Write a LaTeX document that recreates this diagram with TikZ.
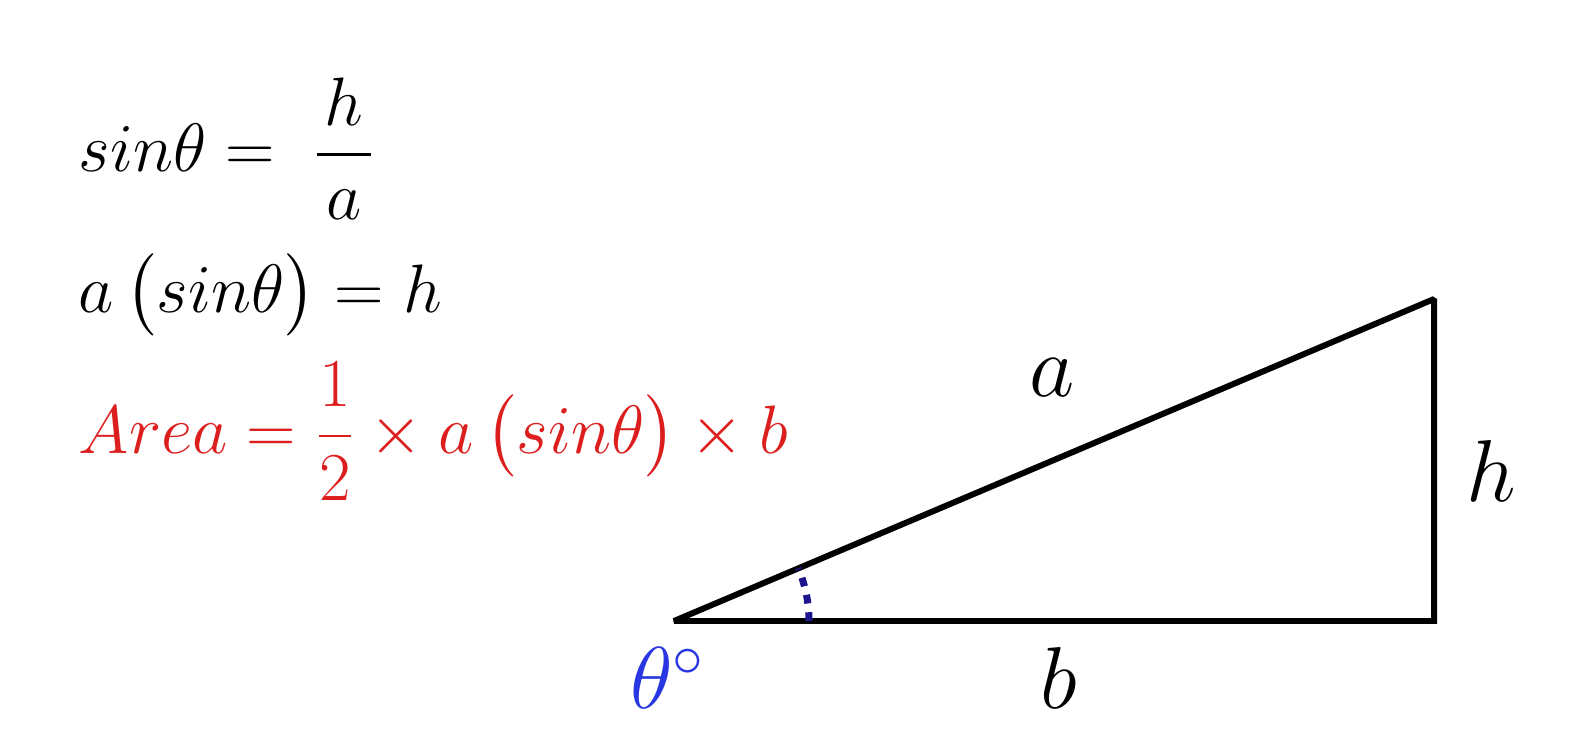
\RequirePackage{fix-cm}
\documentclass[tikz,border=0pt]{standalone}
\usepackage{amsmath}
\usepackage{amssymb}
\usepackage{tikz}
\definecolor{areared}{RGB}{220,30,30}
\definecolor{thetablue}{RGB}{40,55,225}
\definecolor{arcblue}{RGB}{30,20,140}
\begin{document}
\begin{tikzpicture}[eq/.style={anchor=base west,inner sep=0pt,font=\fontsize{19.5}{23}\selectfont},
    lbl/.style={font=\fontsize{25}{30}\selectfont}]
      \useasboundingbox (0,0) rectangle (15.79,7.5);
      \node[eq] (l1) at (0.78,5.78) {$sin\theta = \;\dfrac{\mkern2mu h\mkern2mu}{a}$};
      \node[eq] (l2) at (0.78,4.38) {$a\,\bigl(sin\theta\bigr) = h$};
      \node[eq,text=areared] (l3) at (0.78,2.97) {$Area = \dfrac{1}{2}\times a\,\bigl(sin\theta\bigr)\times b$};
      \coordinate (p) at (6.74,1.29); \coordinate (q) at (14.34,1.29); \coordinate (r) at (14.34,4.51);
      \draw[line width=1.7pt,miter limit=1.5] (p) -- (q) -- (r) -- cycle;
      \draw[arcblue,line width=2pt,dash pattern=on 2.5pt off 2.5pt] ([shift={(0:1.35)}]p) arc (0:23:1.35);
      \node[lbl] (a) at (10.52,3.72) {$a$};
      \node[lbl] (h) at (14.91,2.79) {$h$};
      \node[lbl] (b) at (10.59,0.72) {$b$};
      \node[text=thetablue,font=\fontsize{25}{30}\selectfont] (t) at (6.68,0.72) {$\theta^\circ$};
    \end{tikzpicture}
\end{document}
